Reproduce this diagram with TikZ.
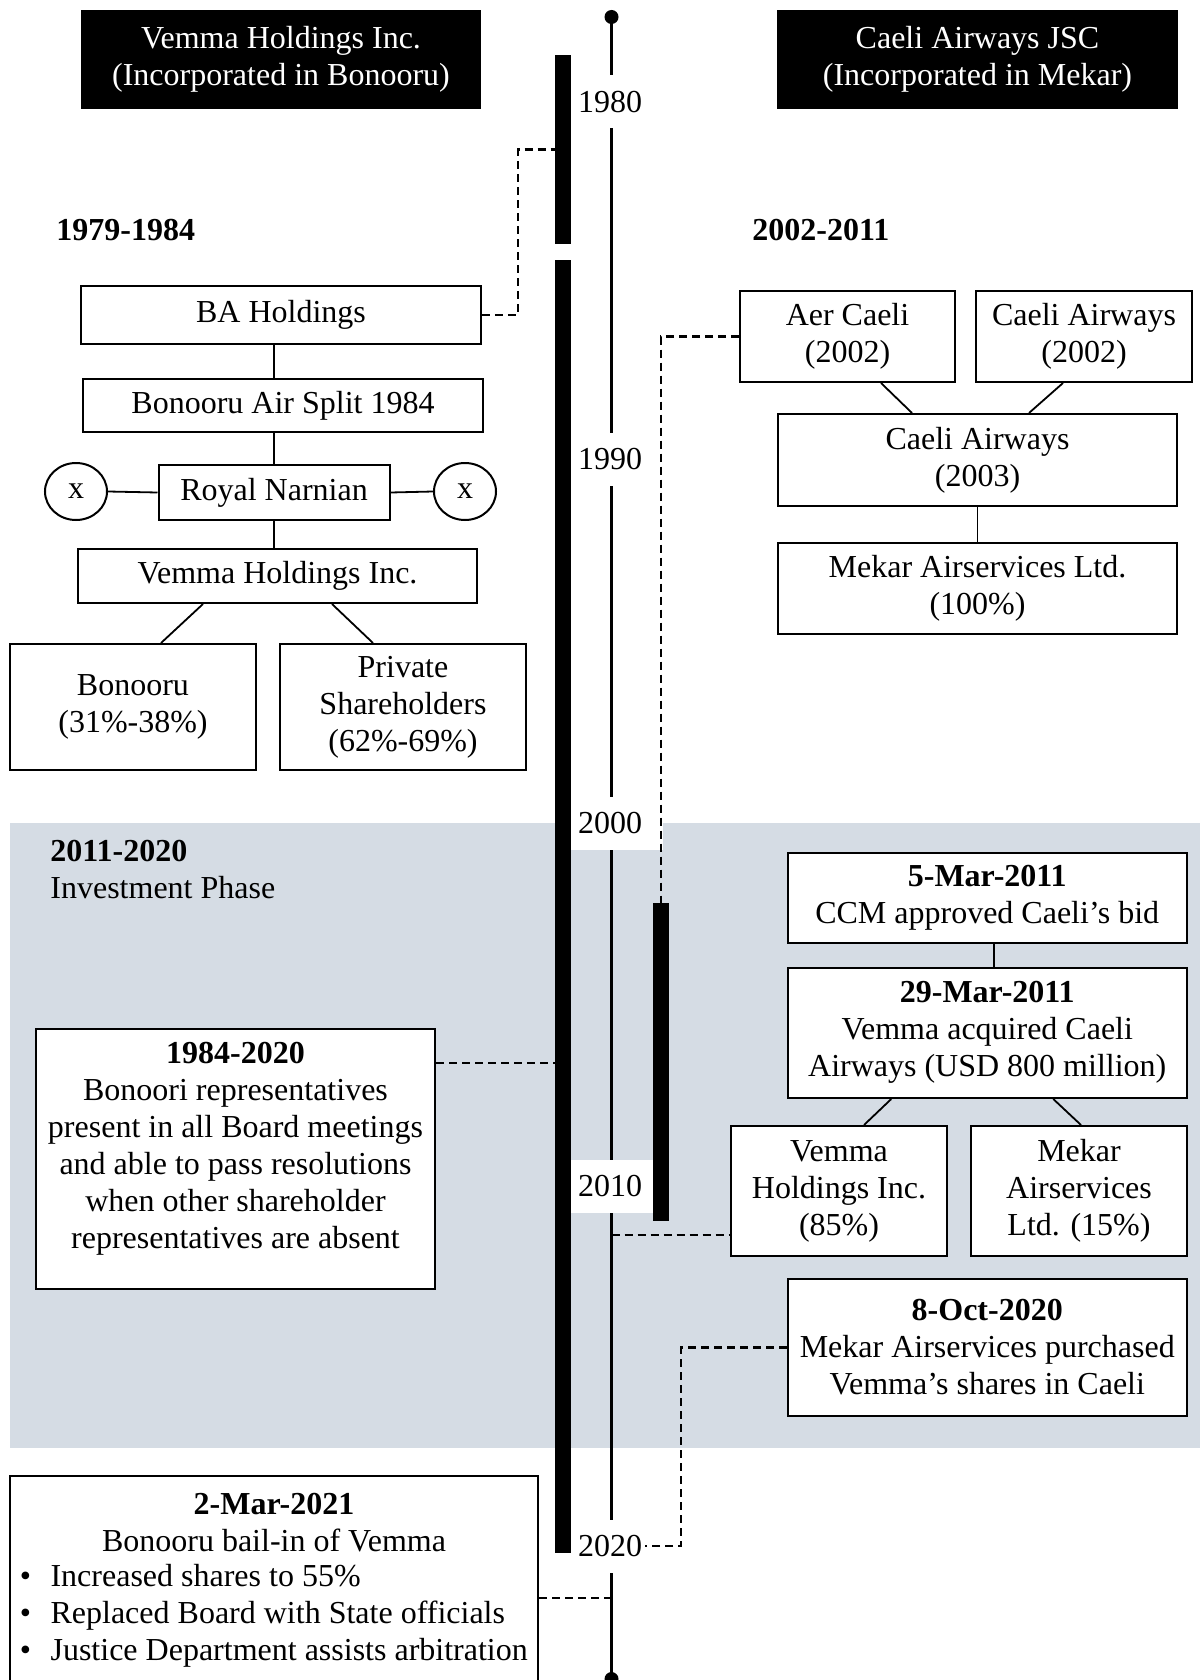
\documentclass[tikz,border=0pt]{standalone}
\usepackage{fontspec}
\setmainfont{Liberation Serif}
\usetikzlibrary{calc,shapes.geometric}
\definecolor{band}{HTML}{D5DCE4}
\begin{document}
\begin{tikzpicture}[x=0.5pt,y=-0.5pt,
  font=\fontsize{16}{18.5}\selectfont,
  box/.style={draw,line width=1pt,fill=white,align=center,inner sep=0pt},
  hdr/.style={fill=black,text=white,align=center,inner sep=0pt,minimum height=49.5pt},
  bar/.style={fill=black,inner sep=0pt,minimum width=8pt},
  yr/.style={fill=white,inner ysep=0pt,inner xsep=3.5pt,text width=39pt,align=left,minimum height=26.5pt},
  conn/.style={line width=0.9pt},
  dline/.style={line width=1.05pt,dash pattern=on 4pt off 2.5pt},
  tl/.style={line width=1.3pt},
  heading/.style={font=\fontsize{16}{18.5}\selectfont\bfseries,anchor=west,inner sep=0pt,align=left},
  txt/.style={align=center,inner sep=0pt},
  dot/.style={circle,fill=black,inner sep=0pt,minimum size=7pt},
  oval/.style={ellipse,draw,line width=1pt,inner sep=0pt,minimum width=31pt,minimum height=28.5pt}
]
\useasboundingbox (0,0) rectangle (1200,1680);
\clip (0,0) rectangle (1200,1680);

% band
\fill[band] (10,823) rectangle (1200,1448);

% timeline
\node[dot] (dTop) at (611.5,17) {};
\node[dot] (dBot) at (611.5,1679) {};
\draw[tl] (dTop.center) -- (dBot.center);

% year labels
\node[yr] (y1980) at (617,102) {1980};
\node[yr] (y1990) at (617,459) {1990};
\node[yr] (y2000) at (617,823) {2000};
\node[yr] (y2010) at (617,1186.5) {2010};
\node[yr] (y2020) at (617,1546) {2020};

% bars
\node[bar,minimum height=94.5pt] (bar1) at (563,149.5) {};
\node[bar,minimum height=646.5pt] (bar2) at (563,906.5) {};
\node[bar,minimum height=159pt] (bar3) at (661,1062) {};

% headers
\node[hdr,minimum width=200pt] (hL) at (281,59.5) {Vemma Holdings Inc.\\(Incorporated in Bonooru)};
\node[hdr,minimum width=200.5pt] (hR) at (977.5,59.5) {Caeli Airways JSC\\(Incorporated in Mekar)};

% headings
\node[heading] (h1) at (56,230) {1979-1984};
\node[heading] (h2) at (752,230) {2002-2011};
\node[anchor=west,inner sep=0pt,align=left] (h3) at (50,869.5) {\textbf{2011-2020}\\Investment Phase};

% left structure
\node[box,minimum width=199.75pt,minimum height=29.25pt] (ba) at (281,314.75) {BA Holdings};
\node[box,minimum width=200pt,minimum height=26.5pt] (split) at (283,405.5) {Bonooru Air Split 1984};
\node[box,minimum width=115.5pt,minimum height=27.5pt] (rn) at (274,492.5) {Royal Narnian};
\node[oval] (cl) at (76,491.5) {x};
\node[oval] (cr) at (465,491.5) {x};
\node[box,minimum width=199.5pt,minimum height=27pt] (vh) at (277.5,576) {Vemma Holdings Inc.};
\node[box,minimum width=123pt,minimum height=63pt] (bono) at (133,707) {Bonooru\\(31\%-38\%)};
\node[box,minimum width=123pt,minimum height=63pt] (priv) at (403,707) {Private\\Shareholders\\(62\%-69\%)};

% right structure
\node[box,minimum width=107.5pt,minimum height=45.5pt] (aer) at (847.5,336.5) {Aer Caeli\\(2002)};
\node[box,minimum width=108pt,minimum height=45.5pt] (ca02) at (1084,336.5) {Caeli Airways\\(2002)};
\node[box,minimum width=199.5pt,minimum height=46pt] (ca03) at (977.5,460) {Caeli Airways\\(2003)};
\node[box,minimum width=199.5pt,minimum height=45.5pt] (mek) at (977.5,588.5) {Mekar Airservices Ltd.\\(100\%)};

\node[box,minimum width=199.75pt,minimum height=45pt] (mar5) at (987.25,898) {\textbf{5-Mar-2011}\\CCM approved Caeli's bid};
\node[box,minimum width=199.75pt,minimum height=65.25pt] (mar29) at (987.25,1032.75) {\textbf{29-Mar-2011}\\Vemma acquired Caeli\\Airways (USD 800 million)};
\node[box,minimum width=108pt,minimum height=65pt] (v85) at (839,1191) {Vemma\\Holdings Inc.\\(85\%)};
\node[box,minimum width=108pt,minimum height=65pt] (m15) at (1079,1191) {Mekar\\Airservices\\Ltd. (15\%)};
\node[box,minimum width=199.75pt,minimum height=68.5pt] (oct) at (987.25,1347.5) {\textbf{8-Oct-2020}\\Mekar Airservices purchased\\Vemma's shares in Caeli};

% left lower boxes
\node[box,minimum width=199.5pt,minimum height=129.75pt] (r1984) at (235.5,1158.75) {};
\node[txt] (t1984) at (235.5,1149) {\textbf{1984-2020}\\Bonoori representatives\\present in all Board meetings\\and able to pass resolutions\\when other shareholder\\representatives are absent};
\node[box,minimum width=264pt,minimum height=122pt] (mar21) at (274,1598) {};
\node[txt] (t21) at (274,1523) {\textbf{2-Mar-2021}\\Bonooru bail-in of Vemma};
\node[anchor=west,inner sep=0pt] (b21) at (19.5,1616) {\begin{tabular}{@{}l@{\hspace{9.75pt}}l@{}}\textbullet & Increased shares to 55\%\\ \textbullet & Replaced Board with State officials\\ \textbullet & Justice Department assists arbitration\end{tabular}};

% solid connectors
\draw[conn] (ba.south -| rn.north) -- (split.north -| rn.north);
\draw[conn] (split.south -| rn.north) -- (rn.north);
\draw[conn] (rn.south) -- (vh.north -| rn.south);
\draw[conn] (cl.east) -- (rn.west);
\draw[conn] (rn.east) -- (cr.west);
\draw[conn] ($(vh.south)+(-74.5,0)$) -- ($(bono.north)+(28,0)$);
\draw[conn] ($(vh.south)+(54.5,0)$) -- ($(priv.north)+(-30,0)$);
\draw[conn] ($(aer.south)+(33.5,0)$) -- ($(ca03.north)+(-65.5,0)$);
\draw[conn] ($(ca02.south)+(-21,0)$) -- ($(ca03.north)+(51.5,0)$);
\draw[conn] (ca03.south) -- (mek.north);
\draw[conn] ($(mar5.south)+(7,0)$) -- ($(mar29.north)+(7,0)$);
\draw[conn] ($(mar29.south)+(-96,0)$) -- ($(v85.north)+(25,0)$);
\draw[conn] ($(mar29.south)+(66,0)$) -- ($(m15.north)+(2,0)$);

% dashed connectors
\draw[dline] (ba.east) -- ++(36,0) |- (bar1.west);
\draw[dline] (aer.west) -| (bar3.north);
\path ($(r1984.north east)+(0,35)$) coordinate (d3);
\draw[dline] (d3) -- (d3 -| bar2.west);
\path ($(v85.south west)+(0,-22)$) coordinate (d4);
\draw[dline] (d4 -| dTop) -- (d4);
\draw[dline] (oct.west) -- ++(-105.5,0) |- ($(y2020.east)+(-18,0)$);
\path ($(mar21.north east)+(0,123)$) coordinate (d6);
\draw[dline] (d6) -- (d6 -| dTop);
\end{tikzpicture}
\end{document}
